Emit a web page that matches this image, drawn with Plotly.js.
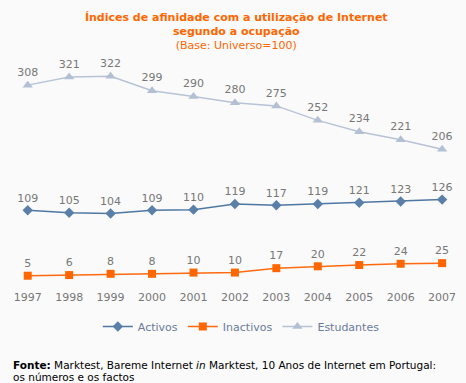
<!DOCTYPE html>
<html><head><meta charset="utf-8">
<script src="https://cdn.plot.ly/plotly-3.0.1.min.js"></script>
<style>html,body{margin:0;padding:0;background:#fafafa;}</style>
</head><body><div id="chart" style="width:466px;height:383px;"></div>
<script>
var years = [1997,1998,1999,2000,2001,2002,2003,2004,2005,2006,2007];
var activos = [109,105,104,109,110,119,117,119,121,123,126];
var inactivos = [5,6,8,8,10,10,17,20,22,24,25];
var estudantes = [308,321,322,299,290,280,275,252,234,221,206];
var seriesNames = ['Activos','Inactivos','Estudantes'];

var labelFont = {family:'DejaVu Sans, Verdana, sans-serif', size:11, color:'#777777'};
function tr(y, name, color, lineColor, symbol, size){
  return {x:years, y:y, name:name, type:'scatter', mode:'lines+markers+text',
    text:y.map(String), textposition:'top center', textfont:labelFont,
    line:{color:lineColor, width:1.5}, marker:{color:color, symbol:symbol, size:size},
    cliponaxis:false};
}
var data = [
  tr(activos, seriesNames[0], '#5a7fa8', '#4f77a3', 'diamond', 8),
  tr(inactivos, seriesNames[1], '#ff6600', '#ff6a10', 'square', 8),
  tr(estudantes, seriesNames[2], '#b3bfd3', '#b8c3d6', 'triangle-up', 9)
];
var layout = {
  width:466, height:383,
  paper_bgcolor:'#fafafa', plot_bgcolor:'#fafafa',
  margin:{l:7, r:4, t:65, b:101},
  font:{family:'DejaVu Sans, Verdana, sans-serif', size:11, color:'#777777'},
  title:{text:'<b>Índices de afinidade com a utilização de Internet<br>segundo a ocupação</b><br>(Base: Universo=100)',
    font:{family:'DejaVu Sans, Verdana, sans-serif', size:11, color:'#ff6600'},
    x:0.507, xanchor:'center', y:0.946, yanchor:'top'},
  xaxis:{range:[1996.5,2007.48], tickvals:years, ticktext:years.map(String), showgrid:false, zeroline:false,
    showline:false, ticks:'', ticklabelstandoff:7, tickfont:{size:11, color:'#777777'}},
  yaxis:{range:[-5,340], visible:false, showgrid:false, zeroline:false},
  showlegend:true,
  legend:{orientation:'h', x:0.515, xanchor:'center', y:-0.138, yanchor:'top',
    font:{size:11, color:'#6a7a99'}, bgcolor:'rgba(0,0,0,0)'},
  annotations:[
    {xref:'paper', yref:'paper', x:0.009, xanchor:'left', y:-0.3825, yanchor:'middle', align:'left', showarrow:false,
     text:'<b>Fonte:</b> Marktest, Bareme Internet <i>in</i> Marktest, 10 Anos de Internet em Portugal:',
     font:{size:10.5, color:'#000000'}},
    {xref:'paper', yref:'paper', x:0.009, xanchor:'left', y:-0.4378, yanchor:'middle', align:'left', showarrow:false,
     text:'os números e os factos',
     font:{size:10.5, color:'#000000'}}]
};
Plotly.newPlot('chart', data, layout, {displayModeBar:false, staticPlot:true});
</script></body></html>
